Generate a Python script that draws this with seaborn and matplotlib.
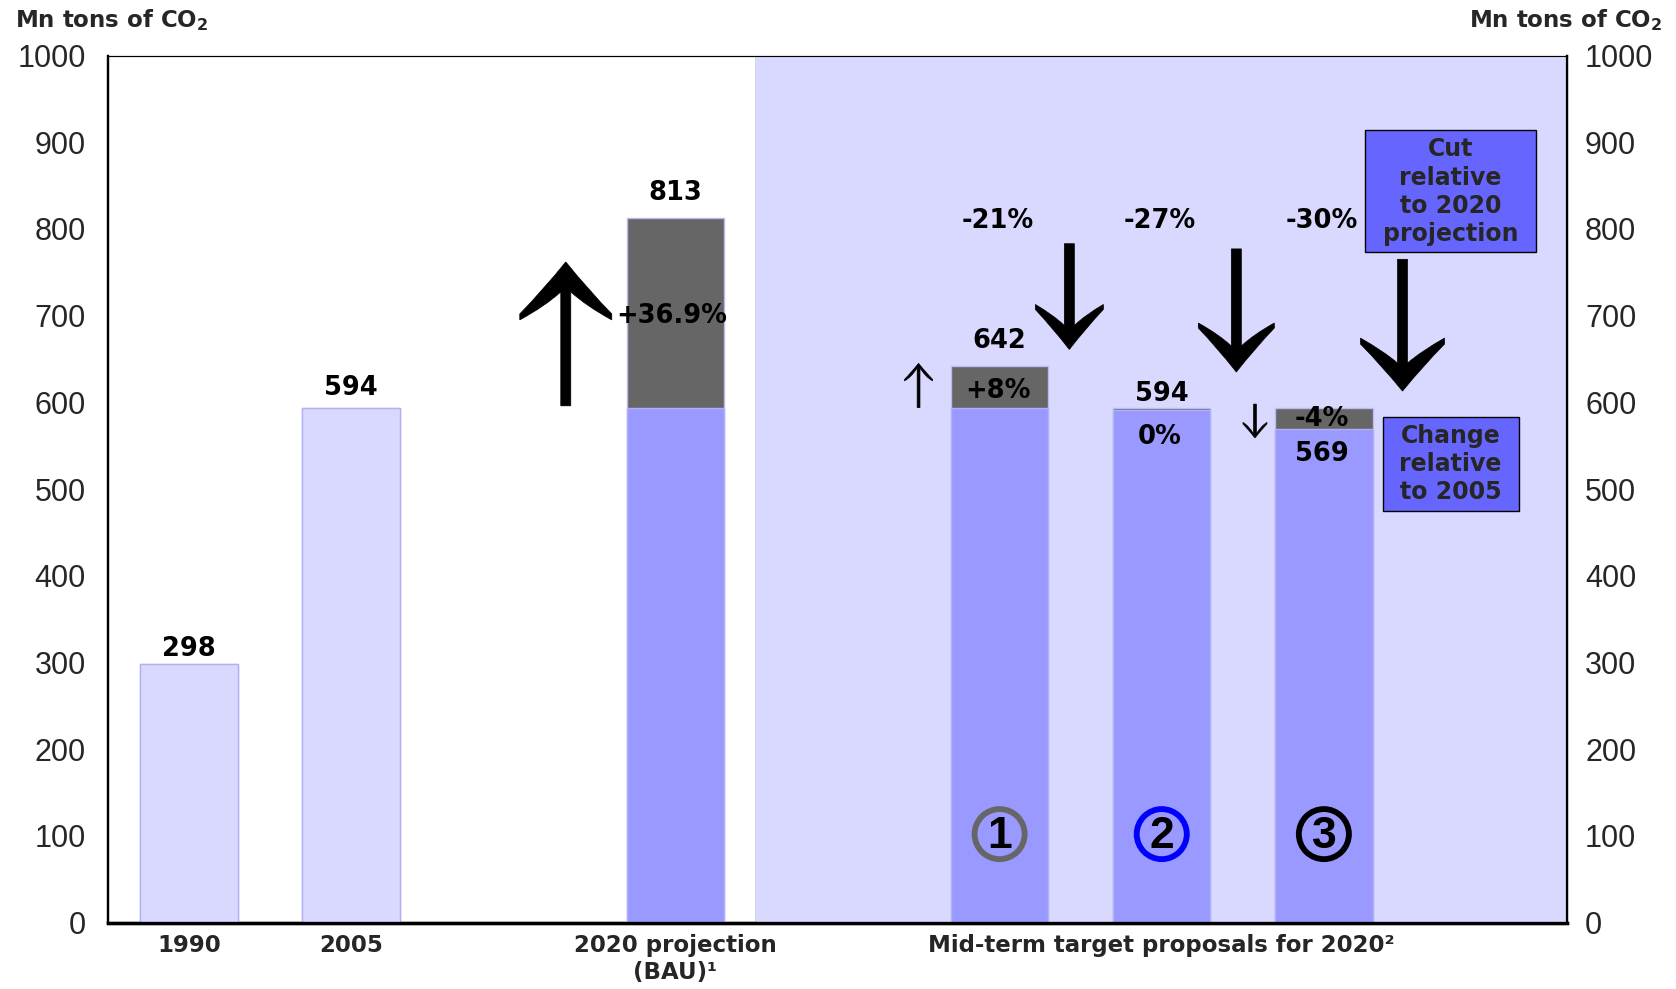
import numpy as np
import pandas as pd
import matplotlib
matplotlib.use("Agg")
import matplotlib.pyplot as plt
import seaborn as sns
from matplotlib.path import Path
from matplotlib.patches import PathPatch, Rectangle

sns.set_theme(style="white")
plt.rcParams["font.family"] = ["DejaVu Sans"]

# ---------------- data ----------------
positions = [0, 1, 3, 5, 6, 7]
totals = [298, 594, 813, 642, 594, 594]          # full bar height (grey top segment)
bases = [298, 594, 594, 594, 591, 569]           # coloured base segment
kinds = ["hist", "hist", "proj", "prop", "prop", "prop"]
top_labels = ["298", "594", "813", "642", "594", None]
change_labels = [None, None, "+36.9%", "+8%", "0%", "-4%"]
cut_labels = ["-21%", "-27%", "-30%"]
cut_positions = [5, 6, 7]
tick_positions = [0, 1, 3, 6]
tick_labels = ["1990", "2005", "2020 projection\n(BAU)\u00b9", "Mid-term target proposals for 2020\u00b2"]
y_ticks = [0, 100, 200, 300, 400, 500, 600, 700, 800, 900, 1000]

C_LIGHT = "#D9D9FF"
C_BLUE = "#9999FF"
C_GREY = "#666666"
C_BOX = "#6666FF"

df = pd.DataFrame({"pos": positions, "total": totals, "base": bases, "kind": kinds})

W, H = 1676, 989
fig = plt.figure(figsize=(W / 100, H / 100), dpi=100)
L, B, AW, AH = 0.0644, 0.0672, 0.8706, 0.8766
ax = fig.add_axes([L, B, AW, AH])
PXX = AW * W / 9.0
PXY = AH * H / 1000.0

ax.set_xlim(-0.5, 8.5)
ax.set_ylim(0, 1000)
ax.axvspan(3.5, 8.5, color=C_LIGHT, zorder=0, lw=0)
ax.axvline(3.5, color="#333355", lw=1.0, zorder=1)

# grey totals first, coloured bases on top
sns.barplot(data=df, x="pos", y="total", native_scale=True, width=0.6, saturation=1,
            color=C_GREY, edgecolor="#BBBBEE", linewidth=1, errorbar=None, ax=ax, zorder=2)
sns.barplot(data=df, x="pos", y="base", hue="kind", native_scale=True, width=0.6, saturation=1,
            palette={"hist": C_LIGHT, "proj": C_BLUE, "prop": C_BLUE}, dodge=False,
            edgecolor="#B0B0F8", linewidth=1, errorbar=None, legend=False, ax=ax, zorder=3)
for p in ax.patches:
    p.set_zorder(3)

# ---------------- text labels ----------------
BOLD = dict(fontweight="bold", fontsize=18.5, ha="center", va="center", color="black", zorder=6)
label_y = {0: 316, 1: 617, 3: 841, 5: 671, 6: 610}
for pos, lab in zip(positions, top_labels):
    if lab:
        ax.text(pos, label_y[pos], lab, **BOLD)
change_y = {3: 700, 5: 613, 6: 560, 7: 581}
change_x = {3: 2.98, 5: 4.99, 6: 5.99, 7: 6.99}
for pos, lab in zip(positions, change_labels):
    if lab:
        ax.text(change_x[pos], change_y[pos], lab, **BOLD)
ax.text(6.99, 541, str(bases[5]), **BOLD)
for pos, lab in zip(cut_positions, cut_labels):
    ax.text(pos - 0.01, 809, lab, **BOLD)

# circled numbers
ring_cols = ["#666666", "#0000FF", "#000000"]
ax.scatter(cut_positions, [102] * 3, s=1300, facecolors="none", edgecolors=ring_cols,
           linewidths=4.2, zorder=6)
for pos, n in zip(cut_positions, ["1", "2", "3"]):
    ax.text(pos, 99, n, fontsize=32, ha="center", va="center", family="Liberation Sans",
            color="black", fontweight="bold", zorder=7)


# ---------------- arrows ----------------
def arrow(x, y_tail, y_tip, w, h, t, s, j, ci):
    d = 1 if y_tip > y_tail else -1
    Lp = abs(y_tip - y_tail) * PXY
    pts = [(0, 0), (-w * 0.5, -h * 0.55), (-w, -h), (-w, -h - t),
           (-w * ci, -h * 0.85), (-s, -j), (-s, -Lp), (s, -Lp), (s, -j),
           (w * ci, -h * 0.85), (w, -h - t), (w, -h), (w * 0.5, -h * 0.55), (0, 0), (0, 0)]
    codes = [Path.MOVETO, Path.CURVE3, Path.CURVE3, Path.LINETO,
             Path.CURVE3, Path.CURVE3, Path.LINETO, Path.LINETO, Path.LINETO,
             Path.CURVE3, Path.CURVE3, Path.LINETO, Path.CURVE3, Path.CURVE3, Path.CLOSEPOLY]
    verts = [(x + px / PXX, y_tip + d * py / PXY) for px, py in pts]
    ax.add_patch(PathPatch(Path(verts, codes), facecolor="black", edgecolor="black",
                           lw=0.5, zorder=6))


arrow(2.324, 596, 762, 46, 52, 6, 5, 30, 0.45)
arrow(5.43, 783, 661, 34, 40, 5, 5, 24, 0.45)
arrow(6.46, 777, 635, 38, 44, 5, 5, 26, 0.45)
arrow(7.485, 765, 613, 42, 47, 6, 5, 28, 0.45)
arrow(4.50, 594, 645, 14, 16, 1.5, 1.4, 4.5, 0.5)
arrow(6.575, 598, 559, 12, 14, 1.5, 1.4, 4.0, 0.5)

# ---------------- boxes ----------------
ax.add_patch(Rectangle((7.255, 773), 8.31 - 7.255, 913.7 - 773, facecolor=C_BOX,
                       edgecolor="black", lw=1, zorder=5))
ax.text(7.78, 843, "Cut\nrelative\nto 2020\nprojection", fontsize=17, fontweight="bold",
        ha="center", va="center", linespacing=1.22, zorder=6)
ax.add_patch(Rectangle((7.367, 474.7), 8.204 - 7.367, 583.2 - 474.7, facecolor=C_BOX,
                       edgecolor="black", lw=1, zorder=5))
ax.text(7.78, 529, "Change\nrelative\nto 2005", fontsize=17, fontweight="bold",
        ha="center", va="center", linespacing=1.22, zorder=6)

# ---------------- axes ----------------
ax.set_xlabel("")
ax.set_ylabel("")
ax.set_xticks(tick_positions)
ax.set_xticklabels(tick_labels, fontsize=16.5, fontweight="bold", linespacing=1.25)
ax.set_yticks(y_ticks)
ax.set_yticklabels([str(v) for v in y_ticks], fontsize=22, family="Liberation Sans")
ax.tick_params(axis="x", length=0, pad=8)
ax.tick_params(axis="y", length=0, pad=16)
ax2 = ax.twinx()
ax2.set_ylim(0, 1000)
ax2.set_yticks(y_ticks)
ax2.set_yticklabels([str(v) for v in y_ticks], fontsize=22, family="Liberation Sans")
ax2.tick_params(axis="y", length=0, pad=13)
for a in (ax, ax2):
    a.spines["left"].set_linewidth(1.6)
    a.spines["right"].set_linewidth(1.6)
    a.spines["top"].set_linewidth(0.8)
    a.spines["bottom"].set_linewidth(2.4)
    for sp in a.spines.values():
        sp.set_color("black")
ax.grid(False)
ax2.grid(False)

fig.text(15 / W, 1 - 20 / H, r"Mn tons of CO$_\mathbf{2}$", fontsize=16.5, fontweight="bold",
         ha="left", va="center")
fig.text(1662 / W, 1 - 20 / H, r"Mn tons of CO$_\mathbf{2}$", fontsize=16.5, fontweight="bold",
         ha="right", va="center")

fig.savefig("out.png", dpi=100)
